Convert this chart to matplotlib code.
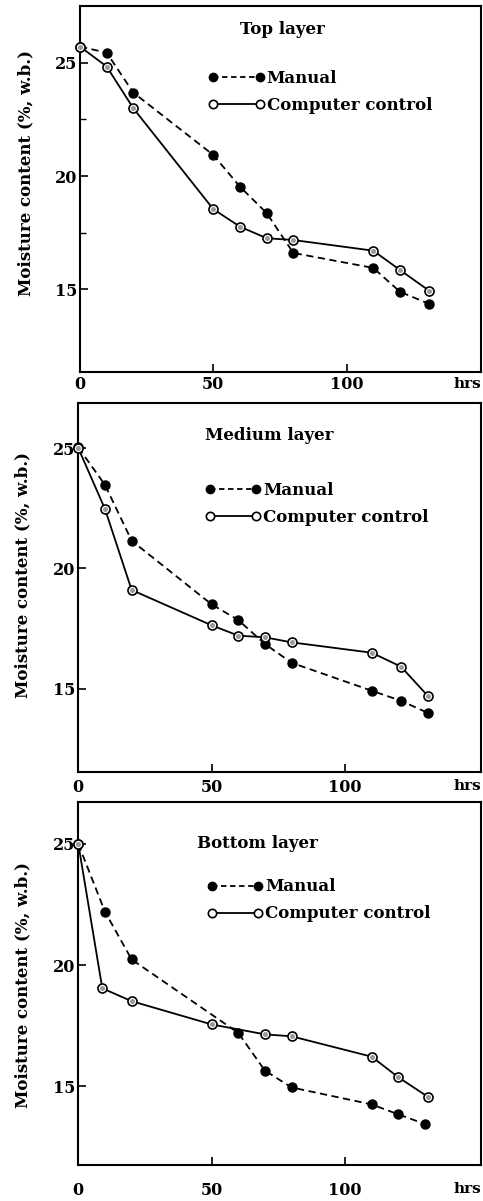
import matplotlib
matplotlib.use("Agg")
import matplotlib.pyplot as plt
from matplotlib.lines import Line2D

# ---------------- data ----------------
layer_titles = ["Top layer", "Medium layer", "Bottom layer"]

top_manual_x = [0, 10, 20, 50, 60, 70, 80, 110, 120, 131]
top_manual_y = [25.71, 25.44, 23.68, 20.93, 19.53, 18.37, 16.61, 15.95, 14.90, 14.36]
top_comp_x = [0, 10, 20, 50, 60, 70, 80, 110, 120, 131]
top_comp_y = [25.71, 24.83, 22.99, 18.54, 17.77, 17.26, 17.18, 16.71, 15.86, 14.94]

med_manual_x = [0, 10, 20, 50, 60, 70, 80, 110, 121, 131]
med_manual_y = [25.03, 23.47, 21.15, 18.50, 17.85, 16.85, 16.07, 14.91, 14.49, 13.99]
med_comp_x = [0, 10, 20, 50, 60, 70, 80, 110, 121, 131]
med_comp_y = [25.0, 22.47, 19.10, 17.63, 17.20, 17.13, 16.92, 16.49, 15.91, 14.70]

bot_manual_x = [0, 10, 20, 60, 70, 80, 110, 120, 130]
bot_manual_y = [25.0, 22.20, 20.23, 17.20, 15.64, 14.95, 14.25, 13.84, 13.44]
bot_comp_x = [0, 9, 20, 50, 70, 80, 110, 120, 131]
bot_comp_y = [25.0, 19.04, 18.51, 17.55, 17.14, 17.06, 16.22, 15.37, 14.57]

x_ticks = [0, 50, 100]
y_ticks = [15, 20, 25]
legend_labels = ["Manual", "Computer control"]
y_label = "Moisture content (%, w.b.)"
x_unit = "hrs"

manual_x = [top_manual_x, med_manual_x, bot_manual_x]
manual_y = [top_manual_y, med_manual_y, bot_manual_y]
comp_x = [top_comp_x, med_comp_x, bot_comp_x]
comp_y = [top_comp_y, med_comp_y, bot_comp_y]

# ---------------- layout ----------------
W, H = 483, 1201
fig = plt.figure(figsize=(W / 100, H / 100), dpi=100)
FONT = "DejaVu Serif"

# (left, top, right, bottom) in pixels
boxes = [(80, 6, 481, 372), (78.3, 402.7, 481, 771.7), (78.3, 801.7, 481, 1165)]
xlims = [(0, 150.4), (0, 151), (0, 151)]
ylims = [(11.36, 27.5), (11.54, 26.89), (11.75, 26.74)]
title_pos = [(0.504, 0.936, "center"), (0.315, 0.912, "left"), (0.295, 0.886, "left")]
legend_anchor = [(0.32, 0.8265), (0.314, 0.786), (0.319, 0.789)]
xpad_pt = [3, 5, 12]
hrs_off_px = [5, 7, 17]
ylabel_pos = [(-0.115, 0.544), (-0.117, 0.533), (-0.117, 0.495)]

for i in range(3):
    l, t, r, b = boxes[i]
    ax = fig.add_axes([l / W, 1 - b / H, (r - l) / W, (b - t) / H])
    ax.set_xlim(*xlims[i])
    ax.set_ylim(*ylims[i])

    ax.plot(manual_x[i], manual_y[i], color="black", lw=1.3, ls=(0, (4, 2.5)),
            marker="o", ms=6.5, mfc="black", mec="black", clip_on=False, zorder=3)
    ax.plot(comp_x[i], comp_y[i], color="black", lw=1.3, ls="-",
            marker="o", ms=6.5, mfc="white", mec="black", mew=1.2,
            clip_on=False, zorder=4)
    ax.plot(comp_x[i], comp_y[i], ls="none", marker="o", ms=2.6,
            mfc="#9a9a9a", mec="#9a9a9a", clip_on=False, zorder=5)

    ax.set_xticks(x_ticks)
    ax.set_yticks(y_ticks)
    if i == 0:
        ax.set_yticks([17.5, 22.5], minor=True)
    ax.tick_params(axis="both", which="major", direction="in", length=6, width=1.2,
                   labelsize=11.5)
    ax.tick_params(axis="both", which="minor", direction="in", length=4, width=1.0)
    ax.tick_params(axis="x", pad=xpad_pt[i])
    ax.tick_params(axis="y", pad=2)
    for lab in ax.get_xticklabels() + ax.get_yticklabels():
        lab.set_fontfamily(FONT)
        lab.set_fontweight("bold")
    for sp in ax.spines.values():
        sp.set_linewidth(1.5)

    ax.set_ylabel(y_label, fontfamily=FONT, fontweight="bold", fontsize=12)
    ax.yaxis.set_label_coords(*ylabel_pos[i])

    tx, ty, ha = title_pos[i]
    ax.text(tx, ty, layer_titles[i], transform=ax.transAxes, ha=ha, va="center",
            fontfamily=FONT, fontweight="bold", fontsize=12)

    # unit label at the right under the axis
    ax.annotate(x_unit, xy=(1, 0), xycoords="axes fraction",
                xytext=(-14, -hrs_off_px[i]), textcoords="offset pixels",
                ha="center", va="top", fontfamily=FONT, fontweight="bold", fontsize=11)

    handles = [
        Line2D([], [], color="black", lw=1.3, ls=(0, (3, 2)), marker="o", ms=6,
               mfc="black", mec="black"),
        Line2D([], [], color="black", lw=1.3, ls="-", marker="o", ms=6,
               mfc="white", mec="black", mew=1.2),
    ]
    ax.legend(handles, legend_labels, loc="upper left",
              bbox_to_anchor=legend_anchor[i], frameon=False, numpoints=2,
              handlelength=3.4, handletextpad=0.1, borderpad=0,
              borderaxespad=0, labelspacing=0.6,
              prop={"family": FONT, "weight": "bold", "size": 12})

fig.savefig("out.png", dpi=100)
